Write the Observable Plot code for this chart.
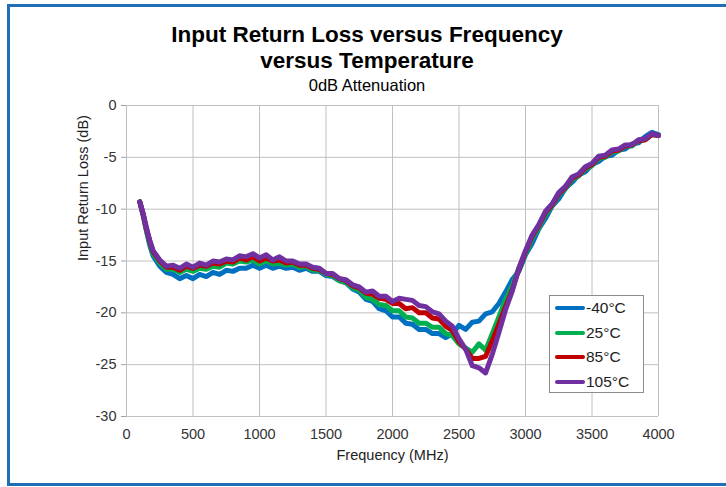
<!DOCTYPE html>
<html>
<head>
<meta charset="utf-8">
<script src="https://cdn.jsdelivr.net/npm/d3@7"></script>
<script src="https://cdn.jsdelivr.net/npm/@observablehq/plot@0.6"></script>
<style>
  html, body { margin: 0; padding: 0; background: #fff; }
  #frame { position: relative; width: 726px; height: 487px; overflow: hidden; font-family: "Liberation Sans", Arial, sans-serif; background: #fff; }
  #border { position: absolute; left: 7px; top: 4px; width: 800px; height: 482px; border: 3px solid #1f6eb6; box-sizing: border-box; }
  .t { position: absolute; left: 0; width: 734px; text-align: center; color: #000; white-space: nowrap; }
  #t1 { top: 24px; font-size: 22.5px; line-height: 22.5px; font-weight: bold; }
  #t2 { top: 50px; font-size: 22.5px; line-height: 22.5px; font-weight: bold; }
  #t3 { top: 77px; font-size: 16.5px; line-height: 16.5px; }
  #chart { position: absolute; left: 0; top: 95px; }
  #legend { position: absolute; left: 549px; top: 295px; width: 95px; height: 98px; border: 1px solid #8c8c8c; box-sizing: border-box; background: #fff; }
  .row { position: absolute; left: 0; height: 20px; display: flex; align-items: center; font-size: 15.5px; color: #222; }
  .sw { width: 30px; height: 4px; margin-left: 5px; margin-right: 1px; border-radius: 2px; }
</style>
</head>
<body>
<div id="frame">
  <div id="border"></div>
  <div class="t" id="t1">Input Return Loss versus Frequency</div>
  <div class="t" id="t2">versus Temperature</div>
  <div class="t" id="t3">0dB Attenuation</div>
  <div id="chart"></div>
  <div id="legend"></div>
</div>
<script>
const freq = [100,125,150,175,200,250,300,350,400,450,500,550,600,650,700,750,800,850,900,950,
  1000,1050,1100,1150,1200,1250,1300,1350,1400,1450,1500,1550,1600,1650,1700,1750,1800,1850,1900,1950,
  2000,2050,2100,2150,2200,2250,2300,2350,2400,2450,2500,2550,2600,2650,2700,2750,2800,2850,2900,2950,
  3000,3050,3100,3150,3200,3250,3300,3350,3400,3450,3500,3550,3600,3650,3700,3750,3800,3850,3900,3950,4000];

const tMinus40 = [-9.3,-10.6,-12.1,-13.5,-14.5, -15.5,-16.1,-16.3,-16.7,-16.4, -16.7,-16.3,-16.5,-16.1,-16.3,
  -15.9,-16.0,-15.7,-15.7,-15.4, -15.7,-15.4,-15.7,-15.5,-15.7, -15.6,-15.9,-15.7,-16.0,-16.0,
  -16.4,-16.5,-16.9,-17.1,-17.7, -18.0,-18.7,-18.9,-19.6,-19.8, -20.4,-20.4,-21.0,-21.1,-21.6,
  -21.6,-22.0,-22.0,-22.4,-22.0, -21.2,-21.6,-20.9,-20.8,-20.1, -19.9,-19.1,-18.0,-16.8,-16.0,
  -14.4,-13.3,-11.9,-10.9,-9.7, -9.0,-8.0,-7.4,-6.7,-6.4, -5.7,-5.4,-4.9,-4.8,-4.3,
  -4.2,-3.7,-3.6,-3.0,-2.6, -2.8];
const t25 = [-9.3,-10.5,-12.0,-13.3,-14.3, -15.2,-15.8,-15.8,-16.1,-15.8, -16.0,-15.7,-15.8,-15.5,-15.6,
  -15.2,-15.3,-15.0,-15.1,-14.9, -15.3,-15.0,-15.3,-15.2,-15.4, -15.3,-15.6,-15.5,-15.9,-15.9,
  -16.3,-16.4,-16.9,-17.0,-17.6, -17.8,-18.5,-18.7,-19.2,-19.3, -19.8,-19.8,-20.4,-20.5,-21.0,
  -21.0,-21.4,-21.4,-22.0,-22.2, -23.0,-23.4,-23.8,-23.0,-23.6, -22.0,-20.4,-18.7,-17.4,-15.7,
  -14.3,-12.8,-11.8,-10.5,-9.7, -8.6,-8.0,-7.1,-6.8,-6.1, -5.8,-5.1,-5.0,-4.5,-4.4,
  -3.9,-3.9,-3.4,-3.3,-2.8, -2.9];
const t85 = [-9.3,-10.5,-11.9,-13.1,-14.1, -15.0,-15.6,-15.6,-15.9,-15.5, -15.7,-15.4,-15.5,-15.2,-15.3,
  -15.0,-15.1,-14.7,-14.9,-14.6, -15.0,-14.7,-15.0,-14.9,-15.2, -15.1,-15.4,-15.4,-15.7,-15.8,
  -16.2,-16.3,-16.7,-16.9,-17.4, -17.6,-18.1,-18.2,-18.6,-18.7, -19.1,-19.1,-19.6,-19.5,-20.0,
  -20.0,-20.5,-20.6,-21.3,-21.7, -22.8,-23.5,-24.4,-24.4,-24.2, -22.7,-21.1,-19.4,-17.8,-15.8,
  -14.1,-12.6,-11.6,-10.3,-9.6, -8.5,-7.9,-7.0,-6.7,-6.0, -5.7,-5.0,-4.9,-4.4,-4.3,
  -3.9,-3.8,-3.4,-3.3,-2.8, -2.9];
const t105 = [-9.3,-10.4,-11.8,-13.0,-14.0, -14.9,-15.5,-15.4,-15.7,-15.3, -15.6,-15.2,-15.4,-15.0,-15.1,
  -14.8,-14.9,-14.5,-14.6,-14.3, -14.7,-14.4,-14.9,-14.6,-15.0, -15.0,-15.3,-15.3,-15.6,-15.7,
  -16.2,-16.2,-16.7,-16.8,-17.3, -17.5,-18.0,-17.9,-18.4,-18.4, -18.9,-18.6,-18.7,-18.8,-19.3,
  -19.4,-19.9,-20.1,-20.8,-21.3, -22.5,-23.5,-25.1,-25.3,-25.8, -24.0,-21.9,-19.7,-17.9,-15.7,
  -14.0,-12.5,-11.5,-10.2,-9.5, -8.4,-7.8,-6.9,-6.6,-5.9, -5.6,-4.9,-4.8,-4.3,-4.2,
  -3.8,-3.8,-3.3,-3.2,-2.7, -2.9];

const seriesNames = ["-40°C", "25°C", "85°C", "105°C"];
const seriesColors = ["#0070C0", "#00B050", "#C00000", "#7030A0"];
const xTicks = [0,500,1000,1500,2000,2500,3000,3500,4000];
const yTicks = [0,-5,-10,-15,-20,-25,-30];

const seriesValues = [tMinus40, t25, t85, t105];
const rows = [];
seriesValues.forEach((vals, i) => vals.forEach((v, j) => rows.push({f: freq[j], v, s: seriesNames[i]})));

const chart = Plot.plot({
  width: 726, height: 392,
  marginLeft: 126, marginRight: 68, marginTop: 10, marginBottom: 71,
  style: {fontFamily: "'Liberation Sans', Arial, sans-serif", fontSize: "14.5px", color: "#333", background: "transparent", overflow: "visible"},
  x: {domain: [0, 4000]},
  y: {domain: [-30, 0]},
  color: {domain: seriesNames, range: seriesColors},
  marks: [
    Plot.gridX(xTicks, {stroke: "#c0c0c0", strokeOpacity: 1, strokeWidth: 1}),
    Plot.gridY(yTicks, {stroke: "#c0c0c0", strokeOpacity: 1, strokeWidth: 1}),
    Plot.axisX(xTicks, {tickSize: 0, tickPadding: 12, label: null, fontSize: 14.5, tickFormat: d => String(d)}),
    Plot.axisY(yTicks, {tickSize: 5, tickPadding: 5, label: null, stroke: "#a0a0a0", fontSize: 14.5, tickFormat: d => String(d)}),
    Plot.lineY(rows, {x: "f", y: "v", z: "s", stroke: "s", strokeWidth: 5, strokeLinejoin: "round", strokeLinecap: "round"}),
    Plot.text(["Frequency (MHz)"], {frameAnchor: "bottom", dy: 39, text: d => d, fontSize: 14.5, lineAnchor: "middle", fill: "#222"}),
    Plot.text(["Input Return Loss (dB)"], {frameAnchor: "left", dx: -43, rotate: -90, text: d => d, fontSize: 14.5, lineAnchor: "middle", fill: "#222"})
  ]
});
document.getElementById("chart").appendChild(chart);

const legend = document.getElementById("legend");
seriesNames.forEach((name, i) => {
  const r = document.createElement("div");
  r.className = "row";
  r.style.top = (2 + i * 24.7) + "px";
  const sw = document.createElement("div");
  sw.className = "sw";
  sw.style.background = seriesColors[i];
  const tx = document.createElement("span");
  tx.textContent = name;
  r.appendChild(sw); r.appendChild(tx);
  legend.appendChild(r);
});
</script>
</body>
</html>
